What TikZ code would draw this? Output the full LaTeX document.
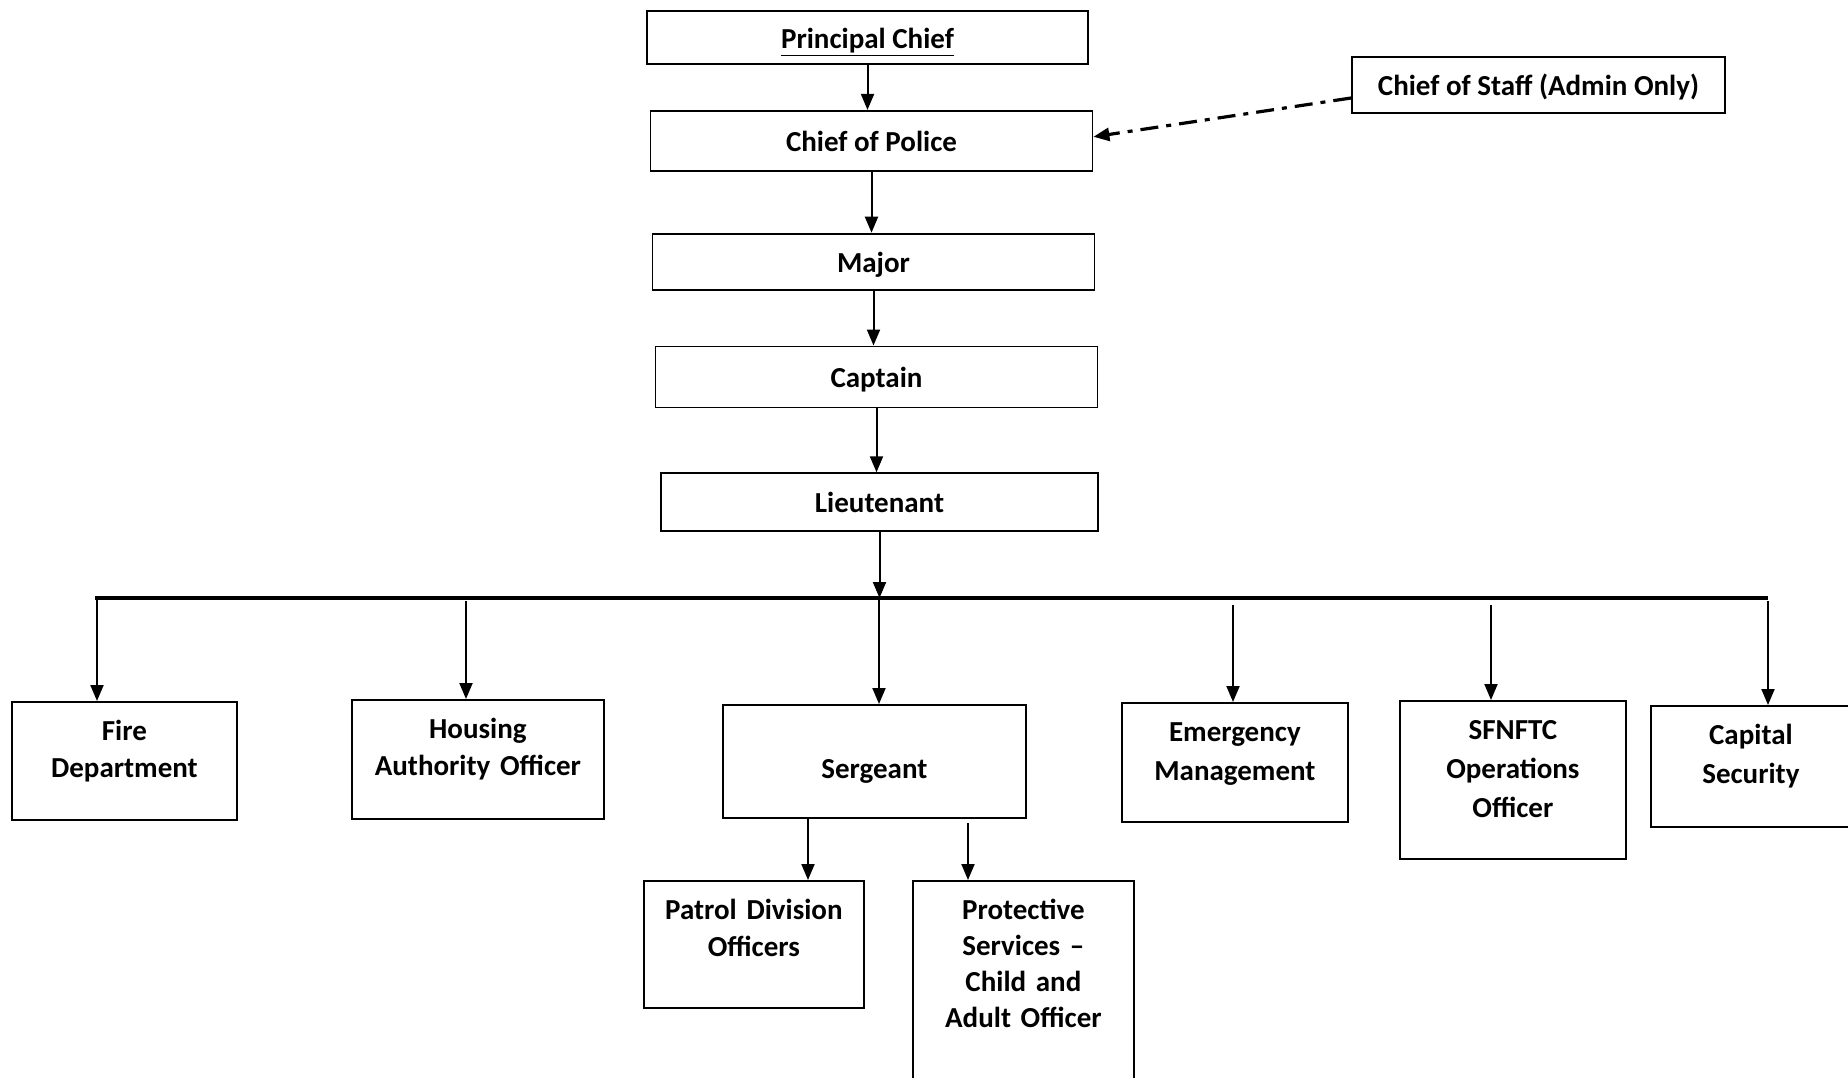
\documentclass[tikz,border=0pt]{standalone}
\usepackage{fontspec}
\setmainfont{Carlito}
\usetikzlibrary{positioning, arrows.meta}
\tikzset{rank node/.style={draw, line width=0.9pt, minimum width=221pt, text height=13.5pt, text depth=3pt, inner sep=0pt},
	unit node/.style={draw, line width=0.9pt, align=center, inner sep=0pt, text height=19.5pt, anchor=north west},
	wide lines/.style={font=\bfseries\fontsize{14.5}{19.5}\selectfont},}

\begin{document}
\begin{tikzpicture}[x=0.5pt, y=-0.5pt, -{Triangle[length=8pt, width=6.5pt]}, line width=1pt,
	font=\bfseries\fontsize{14.5}{18.5}\selectfont]
	\useasboundingbox (0,0) rectangle (1848,1077);
	% Ranks
	\node[rank node, minimum width=220.5pt, minimum height=26.5pt] (pc) at (867.5,37.5) {\underline{Principal Chief}};
	\node[rank node, minimum height=30pt] [below = 22.5pt of pc, xshift=2pt] (cop) {Chief of Police};
	\node[rank node, minimum height=28pt] [below = 30.5pt of cop, xshift=1pt] (maj) {Major};
	\node[rank node, minimum height=30.5pt] [below = 27.5pt of maj, xshift=1.5pt] (cpt) {Captain};
	\node[rank node, minimum width=218.5pt, minimum height=29pt] [below = 32pt of cpt, xshift=1.5pt] (lt) {Lieutenant};
	\node[rank node, minimum width=186.5pt, minimum height=28pt] (cos) at (1538.5,85) {Chief of Staff (Admin Only)};
	% Units
	\node[unit node, text width=112.5pt, text depth=39.5pt] (fire) at (11,701) {Fire\\Department};
	\node[unit node, text width=126pt, text depth=40pt] (hao) at (351,699) {Housing\\Authority Officer};
	\node[unit node, text width=151.5pt, text height=37pt, text depth=19.5pt] (sgt) at (722,704) {Sergeant};
	\node[unit node, wide lines, text width=113pt, text depth=40pt] (em) at (1121,702) {Emergency\\Management};
	\node[unit node, wide lines, text width=113pt, text depth=59.5pt] (ops) at (1399,700) {SFNFTC\\Operations\\Officer};
	\node[unit node, wide lines, text width=100pt, text depth=41pt] (sec) at (1650,705) {Capital\\Security};
	\node[unit node, text width=110pt, text depth=44pt] (pdo) at (643,880) {Patrol Division\\Officers};
	\node[unit node, font=\bfseries\fontsize{14.5}{18}\selectfont, text width=110.5pt, text depth=95.5pt] (psv) at (912,880) {Protective\\Services --\\Child and\\Adult Officer};
	% Bus and taps
	\coordinate (busL) at (95,598);
	\coordinate (busR) at (1768,598);
	\coordinate (tF) at (97,598);
	\coordinate (tH) at (466,601);
	\coordinate (tS) at (879,598);
	\coordinate (tE) at (1233,605);
	\coordinate (tO) at (1491,605);
	\coordinate (tC) at (1768,601);
	\coordinate (sA) at (808,819);
	\coordinate (sB) at (968,823);
	% Paths
	\draw (pc) -- (pc.south |- cop.north);
	\draw (cop) -- (cop.south |- maj.north);
	\draw (maj) -- (maj.south |- cpt.north);
	\draw (cpt) -- (cpt.south |- lt.north);
	\draw (lt) -- (lt |- busL);
	\draw[-, line width=1.6pt] (busL) -- (busR);
	\draw (tF) -- (tF |- fire.north);
	\draw (tH) -- (tH |- hao.north);
	\draw (tS) -- (tS |- sgt.north);
	\draw (tE) -- (tE |- em.north);
	\draw (tO) -- (tO |- ops.north);
	\draw (tC) -- (tC |- sec.north);
	\draw (sA) -- (sA |- pdo.north);
	\draw (sB) -- (sB |- psv.north);
	\draw[line width=1.6pt, dash pattern=on 9pt off 4pt on 2.5pt off 4pt] ([yshift=-6.5pt]cos.west) -- ([yshift=2pt]cop.east);
\end{tikzpicture}
\end{document}
